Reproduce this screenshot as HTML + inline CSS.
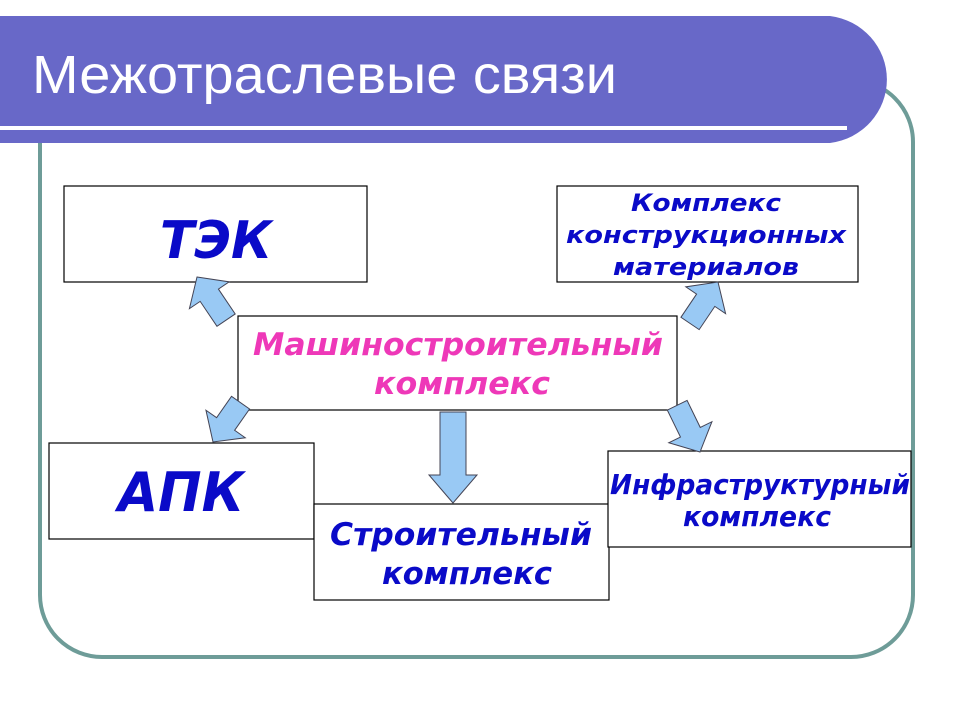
<!DOCTYPE html>
<html><head><meta charset="utf-8"><style>
html,body{margin:0;padding:0;background:#fff;}
svg{display:block}
.t{font-family:"DejaVu Sans","Liberation Sans",sans-serif;font-weight:bold;font-style:italic;fill:#0a0ac8;text-anchor:middle}
</style></head><body>
<svg width="960" height="720" viewBox="0 0 960 720">
<rect x="40" y="80" width="873" height="577" rx="62" fill="none" stroke="#6e9c98" stroke-width="4"/>
<path d="M0 16 H830 A65 64 0 0 1 830 143 H0 Z" fill="#6868c8"/>
<rect x="0" y="126" width="847" height="4" fill="#fff"/>
<text x="32" y="93" font-family="Liberation Sans, sans-serif" font-size="54" fill="#fff" textLength="585" lengthAdjust="spacingAndGlyphs">Межотраслевые связи</text>
<g fill="#fff" stroke="#000" stroke-width="1.2">
<rect x="64" y="186" width="303" height="96"/>
<rect x="557" y="186" width="301" height="96"/>
<rect x="238" y="316" width="439" height="94"/>
<rect x="49" y="443" width="265" height="96"/>
<rect x="314" y="504" width="295" height="96"/>
<rect x="608" y="451" width="303" height="96"/>
</g>
<g fill="#99c9f4" stroke="#445" stroke-width="1">
<polygon transform="translate(197,277) rotate(-34)" points="0,0 24,22 11,22 11,52 -11,52 -11,22 -24,22"/>
<polygon transform="translate(718,282) rotate(34)" points="0,0 24,22 11,22 11,50 -11,50 -11,22 -24,22"/>
<polygon transform="translate(213,442) rotate(-145)" points="0,0 24,22 11,22 11,48 -11,48 -11,22 -24,22"/>
<polygon transform="translate(453,503) rotate(180)" points="0,0 24,28 13,28 13,91 -13,91 -13,28 -24,28"/>
<polygon transform="translate(700,452) rotate(154)" points="0,0 24,22 11,22 11,52 -11,52 -11,22 -24,22"/>
</g>
<text class="t" x="216" y="258" font-size="52" textLength="112" lengthAdjust="spacingAndGlyphs">ТЭК</text>
<text class="t" x="706" y="211" font-size="24" textLength="150" lengthAdjust="spacingAndGlyphs">Комплекс</text>
<text class="t" x="706" y="243" font-size="24" textLength="280" lengthAdjust="spacingAndGlyphs">конструкционных</text>
<text class="t" x="706" y="275" font-size="24" textLength="186" lengthAdjust="spacingAndGlyphs">материалов</text>
<text class="t" x="458" y="355" font-size="31" style="fill:#ee38b8" textLength="410" lengthAdjust="spacingAndGlyphs">Машиностроительный</text>
<text class="t" x="462" y="394" font-size="31" style="fill:#ee38b8" textLength="176" lengthAdjust="spacingAndGlyphs">комплекс</text>
<text class="t" x="181" y="511" font-size="54" textLength="126" lengthAdjust="spacingAndGlyphs">АПК</text>
<text class="t" x="461" y="545" font-size="31" textLength="262" lengthAdjust="spacingAndGlyphs">Строительный</text>
<text class="t" x="467" y="584" font-size="31" textLength="170" lengthAdjust="spacingAndGlyphs">комплекс</text>
<text class="t" x="760" y="494" font-size="28" textLength="300" lengthAdjust="spacingAndGlyphs">Инфраструктурный</text>
<text class="t" x="757" y="526" font-size="28" textLength="148" lengthAdjust="spacingAndGlyphs">комплекс</text>
</svg>
</body></html>
